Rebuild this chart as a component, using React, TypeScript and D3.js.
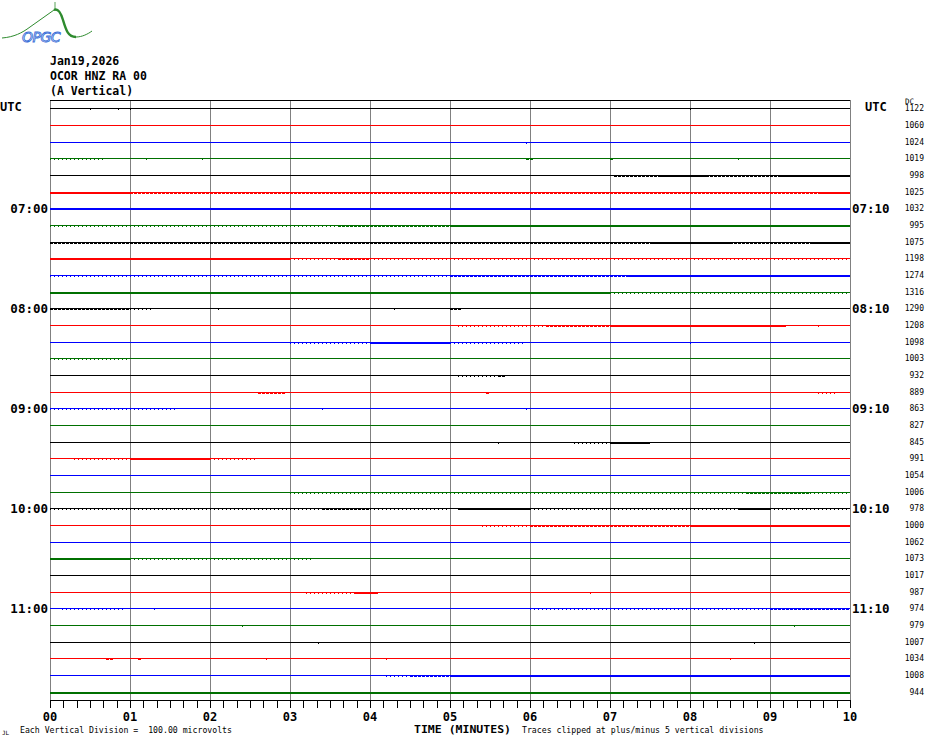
import React from "react";
import * as d3 from "d3";

const title = ["Jan19,2026", "OCOR HNZ RA 00", "(A Vertical)"];
const rightValues = [1122, 1060, 1024, 1019, 998, 1025, 1032, 995, 1075, 1198, 1274, 1316, 1290, 1208, 1098, 1003, 932, 889, 863, 827, 845, 991, 1054, 1006, 978, 1000, 1062, 1073, 1017, 987, 974, 979, 1007, 1034, 1008, 944];
const leftHours = [[6, "07:00"], [12, "08:00"], [18, "09:00"], [24, "10:00"], [30, "11:00"]] as [number, string][];
const rightHours = [[6, "07:10"], [12, "08:10"], [18, "09:10"], [24, "10:10"], [30, "11:10"]] as [number, string][];
const traceColors = ["#000000", "#ff0000", "#0000ff", "#007000"];
const minuteTicks = [0, 1, 2, 3, 4, 5, 6, 7, 8, 9, 10];
// [trace, startMinute, endMinute, level 1 sparse / 2 moderate / 3 heavy]
const noise: [number, number, number, number][] = [
  [0, 0.5, 0.55, 1], [0, 0.85, 0.9, 1], [0, 1.0, 1.05, 1], [0, 8.0, 8.05, 1],
  [2, 5.95, 6.0, 1],
  [3, 0.0, 0.7, 1], [3, 1.2, 1.25, 1], [3, 1.9, 1.95, 1], [3, 5.95, 6.05, 2], [3, 7.0, 7.05, 2], [3, 8.6, 8.65, 1],
  [4, 7.05, 10, 2], [4, 7.6, 8.2, 3], [4, 9.1, 10, 3],
  [5, 0, 10, 2], [5, 0, 1.0, 3], [5, 9.6, 10, 3],
  [6, 0, 10, 3],
  [7, 0, 3.6, 1], [7, 3.6, 10, 2], [7, 5.0, 10, 3],
  [8, 0, 10, 2], [8, 7.5, 8.5, 3], [8, 9.5, 10, 3],
  [9, 0, 3.0, 3], [9, 3.0, 10, 1], [9, 3.6, 4.0, 2],
  [10, 0, 5.0, 1], [10, 5.0, 10, 2], [10, 7.2, 10, 3],
  [11, 0, 7.0, 3], [11, 7.0, 10, 1],
  [12, 0, 1.0, 2], [12, 1.0, 1.3, 1], [12, 2.1, 2.15, 1], [12, 4.3, 4.35, 1], [12, 5.0, 5.15, 2],
  [13, 5.1, 6.2, 1], [13, 6.2, 7.0, 2], [13, 7.0, 9.2, 3], [13, 9.6, 9.65, 1],
  [14, 3.0, 4.0, 1], [14, 4.0, 5.0, 3], [14, 5.0, 5.95, 1], [14, 8.0, 8.05, 1],
  [15, 0.0, 1.0, 1],
  [16, 5.1, 5.7, 1], [16, 5.6, 5.7, 2],
  [17, 2.6, 2.95, 2], [17, 5.45, 5.5, 2], [17, 9.6, 9.85, 1],
  [18, 0.0, 1.6, 1], [18, 3.4, 3.45, 1], [18, 5.95, 6.0, 1],
  [20, 5.6, 5.65, 1], [20, 6.55, 7.0, 1], [20, 7.0, 7.5, 3],
  [21, 0.3, 1.0, 1], [21, 1.0, 2.0, 3], [21, 2.0, 2.6, 1],
  [23, 3.0, 5.0, 1], [23, 5.0, 8.7, 1], [23, 8.7, 9.5, 2], [23, 9.5, 10, 1],
  [24, 0.0, 3.4, 1], [24, 3.4, 4.0, 2], [24, 4.0, 5.0, 1], [24, 5.1, 6.0, 3], [24, 6.0, 8.6, 1], [24, 8.6, 9.0, 3], [24, 9.0, 10, 1],
  [25, 5.4, 6.0, 1], [25, 6.0, 8.0, 2], [25, 8.0, 10, 3],
  [27, 0.0, 1.0, 3], [27, 1.0, 3.3, 1],
  [29, 3.2, 3.8, 1], [29, 3.8, 4.1, 3], [29, 6.75, 6.8, 1],
  [30, 0.15, 0.95, 1], [30, 1.3, 1.35, 1], [30, 6.0, 9.0, 1], [30, 9.0, 10, 2],
  [31, 2.4, 2.45, 1], [31, 9.3, 9.35, 1],
  [32, 3.35, 3.4, 1], [32, 8.8, 8.85, 1],
  [33, 0.7, 0.8, 2], [33, 1.1, 1.15, 2], [33, 2.7, 2.75, 1], [33, 4.2, 4.25, 1], [33, 8.5, 8.55, 1],
  [34, 4.2, 4.5, 1], [34, 4.5, 5.0, 2], [34, 5.0, 10, 3],
  [35, 0, 10, 3],
];

const W = 930, H = 744;
const x = d3.scaleLinear().domain([0, 10]).range([50, 850]);
const y = d3.scaleLinear().domain([-0.5, 35.5]).range([100, 700]);
const mono = "'DejaVu Sans Mono', monospace";
const ry = (i: number) => Math.round(y(i)) + 0.5;
const rx = (m: number) => Math.round(x(m)) + 0.5;

const levelStyle: Record<number, { w: number; dash?: string }> = {
  1: { w: 2, dash: "1,3" },
  2: { w: 2, dash: "3,1" },
  3: { w: 2 },
};

export default function App() {
  const secTicks = d3.range(0, 10.0001, 1 / 6);
  const logoPath = "M2,38 C14,37 22,33 30,27 C38,21 46,16 54,10 C58,8 61,13 63,20 C66,30 68,37 76,37 C82,37 88,34 92,31";
  return (
    <svg width={W} height={H} style={{ display: "block", position: "absolute", left: 0, top: 0, background: "#fff" }}>
      <rect x={0} y={0} width={W} height={H} fill="#fff" />
      {/* logo */}
      <g>
        <path d={logoPath} fill="none" stroke="#2e8b2e" strokeWidth={1} />
        <path d="M54,10 C58,8 61,13 63,20 C66,30 68,37 76,37" fill="none" stroke="#2e8b2e" strokeWidth={2.4} />
        <line x1={55} y1={2} x2={55} y2={11} stroke="#2e8b2e" strokeWidth={0.8} />
        <text x={22} y={42} fontFamily="'DejaVu Sans', sans-serif" fontStyle="italic" fontSize={14} fill="#fff" stroke="#3a6fd8" strokeWidth={0.9} letterSpacing={-0.5}>OPGC</text>
      </g>
      {/* title */}
      {title.map((t, i) => (
        <text key={t} x={50} y={65 + i * 15} fontFamily={mono} fontWeight="bold" fontSize={11.5} fill="#000">{t}</text>
      ))}
      <text x={0} y={111} fontFamily={mono} fontWeight="bold" fontSize={12} fill="#000">UTC</text>
      <text x={865} y={111} fontFamily={mono} fontWeight="bold" fontSize={12} fill="#000">UTC</text>
      <text x={905} y={104} fontFamily={mono} fontSize={7.5} fill="#000">DC</text>
      {/* grid */}
      {minuteTicks.map((m) => (
        <line key={"g" + m} x1={rx(m)} x2={rx(m)} y1={100} y2={700} stroke="#808080" strokeWidth={1} shapeRendering="crispEdges" />
      ))}
      <line x1={50} x2={850} y1={100.5} y2={100.5} stroke="#000" strokeWidth={1} shapeRendering="crispEdges" />
      {/* traces */}
      {rightValues.map((v, i) => (
        <line key={"t" + i} x1={50} x2={850} y1={ry(i)} y2={ry(i)} stroke={traceColors[i % 4]} strokeWidth={1} shapeRendering="crispEdges" />
      ))}
      {noise.map(([t, a, b, lv], k) => (
        <line key={"n" + k} x1={x(a)} x2={x(b)} y1={ry(t)} y2={ry(t)} stroke={traceColors[t % 4]} strokeWidth={levelStyle[lv].w} strokeDasharray={levelStyle[lv].dash} shapeRendering="crispEdges" />
      ))}
      {/* right values */}
      {rightValues.map((v, i) => (
        <text key={"r" + i} x={924} y={y(i) + 3} textAnchor="end" fontFamily={mono} fontSize={8} fill="#000">{v}</text>
      ))}
      {leftHours.map(([i, s]) => (
        <text key={"lh" + s} x={48} y={y(i) + 5} textAnchor="end" fontFamily={mono} fontWeight="bold" fontSize={12.5} fill="#000">{s}</text>
      ))}
      {rightHours.map(([i, s]) => (
        <text key={"rh" + s} x={852} y={y(i) + 5} fontFamily={mono} fontWeight="bold" fontSize={12.5} fill="#000">{s}</text>
      ))}
      {/* bottom axis */}
      <line x1={50} x2={850} y1={700.5} y2={700.5} stroke="#000" strokeWidth={1} shapeRendering="crispEdges" />
      {secTicks.map((s, k) => (
        <line key={"s" + k} x1={rx(s)} x2={rx(s)} y1={700} y2={708} stroke="#000" strokeWidth={1} shapeRendering="crispEdges" />
      ))}
      {minuteTicks.map((m) => (
        <text key={"ml" + m} x={x(m)} y={721} textAnchor="middle" fontFamily={mono} fontWeight="bold" fontSize={12} fill="#000">{String(m).padStart(2, "0")}</text>
      ))}
      <text x={414} y={733} fontFamily={mono} fontWeight="bold" fontSize={11} fill="#000" textLength={97} lengthAdjust="spacingAndGlyphs">TIME (MINUTES)</text>
      <text x={522} y={733} fontFamily={mono} fontSize={8.2} fill="#000">Traces clipped at plus/minus 5 vertical divisions</text>
      <text x={20} y={733} fontFamily={mono} fontSize={8.2} fill="#000" xmlSpace="preserve">Each Vertical Division =  100.00 microvolts</text>
      <text x={2} y={735} fontFamily={mono} fontSize={6} fill="#000">JL</text>
    </svg>
  );
}
